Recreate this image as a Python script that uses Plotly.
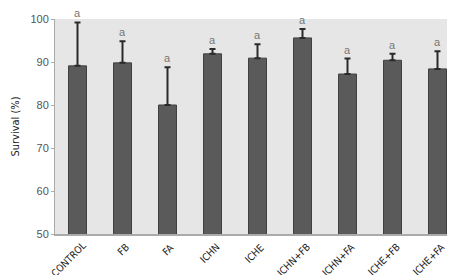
import plotly.graph_objects as go

categories = ["CONTROL", "FB", "FA", "ICHN", "ICHE", "ICHN+FB", "ICHN+FA", "ICHE+FB", "ICHE+FA"]
survival = [89.1, 89.8, 80.0, 91.9, 90.9, 95.6, 87.2, 90.4, 88.4]
err_plus = [10.1, 5.0, 8.8, 1.1, 3.2, 2.1, 3.6, 1.5, 4.1]
letters = ["a"] * 9

FONT = "Liberation Sans Narrow, DejaVu Sans Condensed, Arial Narrow, Liberation Sans"

fig = go.Figure()
fig.add_trace(go.Bar(
    x=categories, y=survival,
    marker=dict(color="#5a5a5a", line=dict(color="#404040", width=1)),
    error_y=dict(type="data", symmetric=False, array=err_plus, arrayminus=[0] * 9,
                 color="#2a2a2a", thickness=2, width=3),
    width=0.4,
))
for c, v, e, t in zip(categories, survival, err_plus, letters):
    fig.add_annotation(x=c, y=v + e, text=t, showarrow=False, yanchor="bottom", yshift=1,
                       font=dict(family="Liberation Sans", size=11, color="#777777"))
for c in categories:
    est_len = sum(4.8 if ch == "+" else 5.6 for ch in c)
    d = est_len / (2 * 2 ** 0.5)
    fig.add_annotation(x=c, xref="x", y=0, yref="paper", text=c, showarrow=False,
                       textangle=-45, xanchor="center", yanchor="middle",
                       xshift=5 - d, yshift=-(12 + d), borderpad=0,
                       font=dict(family=FONT, size=10, color="#1a1a1a"))

fig.update_layout(
    width=455, height=275,
    margin=dict(l=47, r=3, t=11, b=49, autoexpand=False),
    paper_bgcolor="white", plot_bgcolor="#e6e6e6",
    showlegend=False,
    font=dict(family=FONT, size=10, color="#333333"),
    xaxis=dict(range=[-0.5, 8.5], autorange=False, showline=True, linecolor="#aaaaaa",
               linewidth=1.5, showticklabels=False, ticks="", automargin=False),
    yaxis=dict(range=[50, 100], autorange=False, dtick=10, showgrid=False, showline=True,
               linecolor="#aaaaaa", linewidth=1, ticks="outside", ticklen=3, tickcolor="#aaaaaa",
               automargin=False,
               tickfont=dict(family="Liberation Sans", size=11, color="#555555"),
               title=dict(text="Survival (%)", font=dict(family=FONT, size=11, color="#222222"), standoff=8)),
)
fig.write_html("out.html")
